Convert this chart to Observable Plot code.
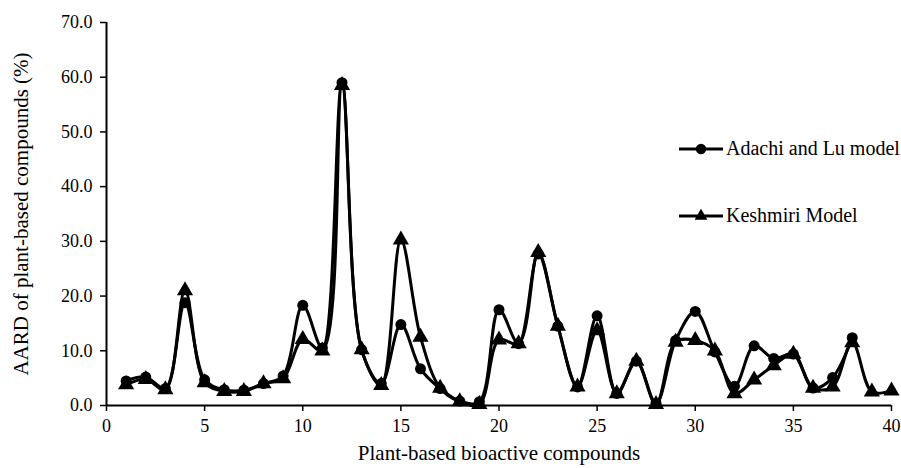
<!DOCTYPE html>
<html>
<head>
<meta charset="utf-8">
<script src="https://cdn.jsdelivr.net/npm/d3@7"></script>
<script src="https://cdn.jsdelivr.net/npm/@observablehq/plot@0.6"></script>
<style>
  html, body { margin: 0; padding: 0; background: #fff; }
  #wrap { position: relative; width: 901px; height: 468px; font-family: 'Liberation Serif', 'Times New Roman', serif; }
  #wrap svg text { font-family: 'Liberation Serif', 'Times New Roman', serif !important; }
  .leg { position: absolute; display: flex; align-items: center; font-size: 20px; line-height: 23px; color: #000; }
  .leg svg { margin-right: 2px; }
</style>
</head>
<body>
<div id="wrap"></div>
<script>
const compounds = d3.range(1, 41);
const adachi = [4.5, 5.2, 3.1, 18.8, 4.7, 2.9, 2.8, 4.0, 5.4, 18.3,
                10.5, 59.0, 10.2, 4.0, 14.8, 6.7, 3.1, 0.8, 0.7, 17.5,
                11.3, 27.7, 14.5, 3.4, 16.4, 2.2, 8.1, 0.4, 11.9, 17.2,
                9.8, 3.5, 10.9, 8.6, 9.4, 3.2, 5.1, 12.4];
const keshmiri = [3.8, 4.8, 2.9, 21.0, 4.2, 2.6, 2.6, 4.0, 4.9, 12.1,
                  10.0, 58.5, 10.2, 3.7, 30.3, 12.5, 3.2, 0.7, 0.2, 12.0,
                  11.3, 28.0, 14.5, 3.4, 13.7, 2.2, 8.1, 0.2, 11.6, 11.9,
                  10.0, 2.2, 4.7, 7.3, 9.4, 3.2, 3.4, 11.5, 2.5, 2.7];
const xTicks = [0, 5, 10, 15, 20, 25, 30, 35, 40];
const yTicks = [0, 10, 20, 30, 40, 50, 60, 70];
const seriesNames = ["Adachi and Lu model", "Keshmiri Model"];

const A = adachi.map((v, i) => ({x: compounds[i], y: v}));
const K = keshmiri.map((v, i) => ({x: compounds[i], y: v}));

const font = "'Liberation Serif', 'Times New Roman', serif";

const chart = Plot.plot({
  width: 901,
  height: 468,
  marginLeft: 106,
  marginRight: 10,
  marginTop: 22,
  marginBottom: 63,
  style: {fontFamily: font, fontSize: "18px", color: "#000", background: "#fff"},
  x: {domain: [0, 40], ticks: xTicks},
  y: {domain: [0, 70], ticks: yTicks},
  marks: [
    Plot.axisX({ticks: xTicks, tickSize: 6, tickPadding: 8, fontSize: 18,
                label: "Plant-based bioactive compounds", labelAnchor: "center",
                labelOffset: 54, labelArrow: "none", stroke: "#000", strokeWidth: 1.5}),
    Plot.axisY({ticks: yTicks, tickSize: 6, tickPadding: 8, fontSize: 18,
                tickFormat: d3.format(".1f"),
                label: "AARD of plant-based compounds (%)", labelAnchor: "center",
                labelOffset: 93, labelArrow: "none", stroke: "#000", strokeWidth: 1.5}),
    Plot.line(K, {x: "x", y: "y", curve: "catmull-rom", stroke: "#000", strokeWidth: 3}),
    Plot.line(A, {x: "x", y: "y", curve: "catmull-rom", stroke: "#000", strokeWidth: 3}),
    Plot.dot(K, {x: "x", y: "y", symbol: "triangle", r: 6, fill: "#000", stroke: "none"}),
    Plot.dot(A, {x: "x", y: "y", symbol: "circle", r: 5.5, fill: "#000", stroke: "none"}),
    Plot.ruleX([0], {stroke: "#000", strokeWidth: 2}),
    Plot.ruleY([0], {stroke: "#000", strokeWidth: 2})
  ]
});
chart.querySelectorAll("[aria-label='x-axis label'] text, [aria-label='y-axis label'] text").forEach(t => t.style.fontSize = "21px");

const wrap = document.getElementById("wrap");
wrap.appendChild(chart);

function legendItem(name, symbol, top) {
  const div = document.createElement("div");
  div.className = "leg";
  div.style.left = "678px";
  div.style.top = top + "px";
  const s = d3.create("svg").attr("width", 46).attr("height", 14);
  s.append("line").attr("x1", 1).attr("x2", 45).attr("y1", 7).attr("y2", 7).attr("stroke", "#000").attr("stroke-width", 3);
  s.append("path").attr("transform", "translate(23,7)")
    .attr("d", d3.symbol(symbol === "circle" ? d3.symbolCircle : d3.symbolTriangle, symbol === "circle" ? 85 : 70)())
    .attr("fill", "#000");
  div.appendChild(s.node());
  const t = document.createElement("span");
  t.textContent = name;
  div.appendChild(t);
  wrap.appendChild(div);
}
legendItem(seriesNames[0], "circle", 137);
legendItem(seriesNames[1], "triangle", 204);
</script>
</body>
</html>
